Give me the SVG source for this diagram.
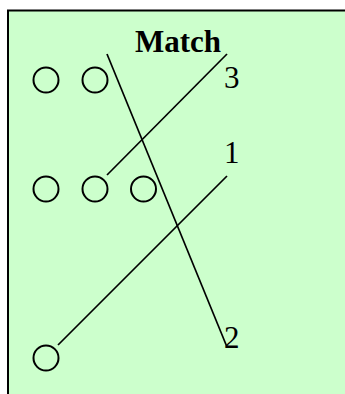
<svg xmlns="http://www.w3.org/2000/svg" width="345" height="394" viewBox="0 0 345 394">
<style>
.node circle{fill:none;stroke:#000;stroke-width:2}
.conn line{stroke:#000;stroke-width:1.7}
.lbl{font-family:"Liberation Serif","Times New Roman",serif;font-size:31px;fill:#000}
</style>
<rect x="0" y="0" width="345" height="394" fill="#fff"/>
<rect id="frame" x="8" y="10.5" width="400" height="400" fill="#CCFFCC" stroke="#000" stroke-width="2"/>
<text id="title" class="lbl" x="135" y="52" font-weight="bold" font-size="31">Match</text>
<g id="n1" class="node"><circle cx="46" cy="80" r="12.5"/></g>
<g id="n2" class="node"><circle cx="95" cy="80" r="12.5"/></g>
<g id="n3" class="node"><circle cx="46" cy="189" r="12.5"/></g>
<g id="n4" class="node"><circle cx="95" cy="189" r="12.5"/></g>
<g id="n5" class="node"><circle cx="143.5" cy="189" r="12.5"/></g>
<g id="n6" class="node"><circle cx="46" cy="358" r="12.5"/></g>
<g id="conn" class="conn">
<line x1="107" y1="54" x2="227" y2="347"/>
<line x1="227" y1="54" x2="107" y2="175"/>
<line x1="227" y1="176" x2="58" y2="345"/>
</g>
<g id="l3"><text class="lbl" x="224" y="88">3</text></g>
<g id="l1"><text class="lbl" x="224" y="163">1</text></g>
<g id="l2"><text class="lbl" x="224" y="348">2</text></g>
</svg>
